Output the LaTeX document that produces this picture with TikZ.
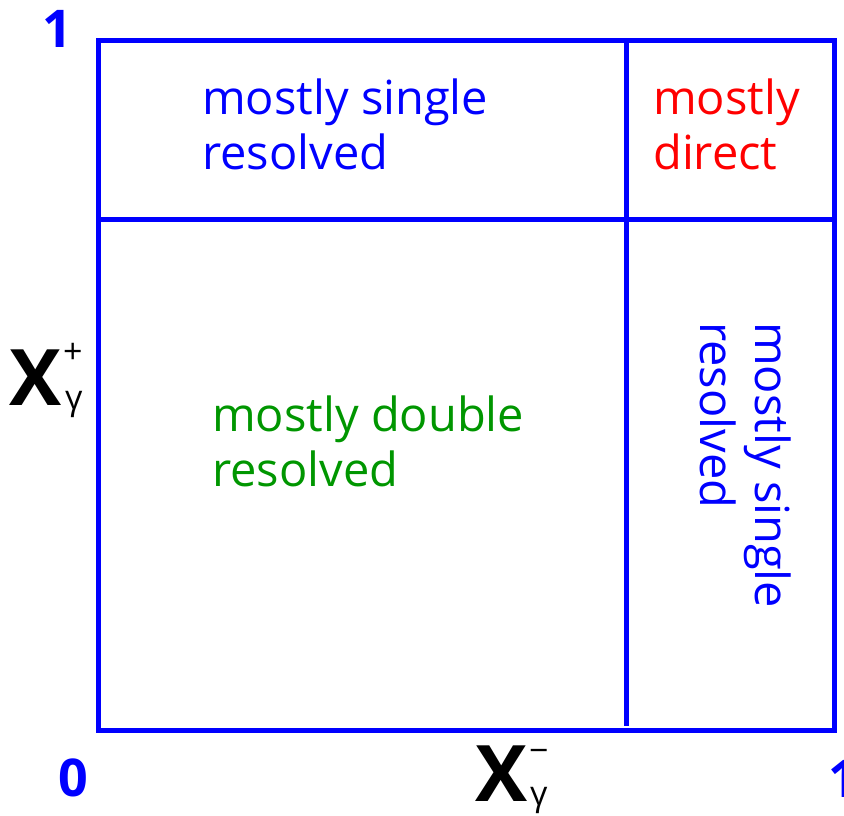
\documentclass[tikz,border=0pt]{standalone}
\usepackage{fontspec}
\setmainfont{Open Sans}
\usepackage{xcolor}
\definecolor{rblue}{RGB}{0,0,255}
\definecolor{rred}{RGB}{255,0,0}
\definecolor{rgreen}{RGB}{0,150,0}
\tikzset{
  region/.style={inner sep=0pt, anchor=north west, align=left,
    font=\fontsize{47}{55}\selectfont},
  axisnum/.style={inner sep=0pt, anchor=base west, text=rblue,
    font=\fontsize{52}{52}\selectfont\bfseries},
  bigx/.style={inner sep=0pt, anchor=base west,
    font=\fontsize{78}{78}\selectfont\bfseries},
  small/.style={inner sep=0pt, anchor=base west,
    font=\fontsize{34}{34}\selectfont}
}

\begin{document}
\begin{tikzpicture}[x=1pt,y=-1pt]
\def\xmin{98}
\def\xmax{834}
\def\ymin{40}
\def\ymax{730}
\def\xcut{626}
\def\ycut{219}

\useasboundingbox (0,0) rectangle (844,815);

% boxes
\draw[rblue, line width=5pt] (\xmin,\ymin) rectangle (\xmax,\ymax);
\draw[rblue, line width=5pt] (\xmin,\ycut) -- (\xmax,\ycut);
\draw[rblue, line width=5pt] (\xcut,\ymin) -- (\xcut,726);

% region labels
\node[region, text=rblue] (single) at (202,79) {mostly single\\resolved};
\node[region, text=rred] (direct) at (653,79) {mostly\\direct};
\node[region, text=rblue, rotate=-90] (singlev) at (791,322) {mostly single\\resolved};
\node[region, text=rgreen] (double) at (212,396) {mostly double\\resolved};

% axes
\node[axisnum] (one) at (42,47) {1};
\node[axisnum] (zero) at (58,796) {0};
\node[axisnum] (onex) at (828,797) {1};

\node[bigx] (xp) at (9,405) {X};
\node[small] (xpsup) at (63,363) {+};
\node[small] (xpsub) at (65,409) {γ};

\node[bigx] (xm) at (475,801) {X};
\node[small] (xmsup) at (529,762) {−};
\node[small] (xmsub) at (530,805) {γ};
\end{tikzpicture}
\end{document}
